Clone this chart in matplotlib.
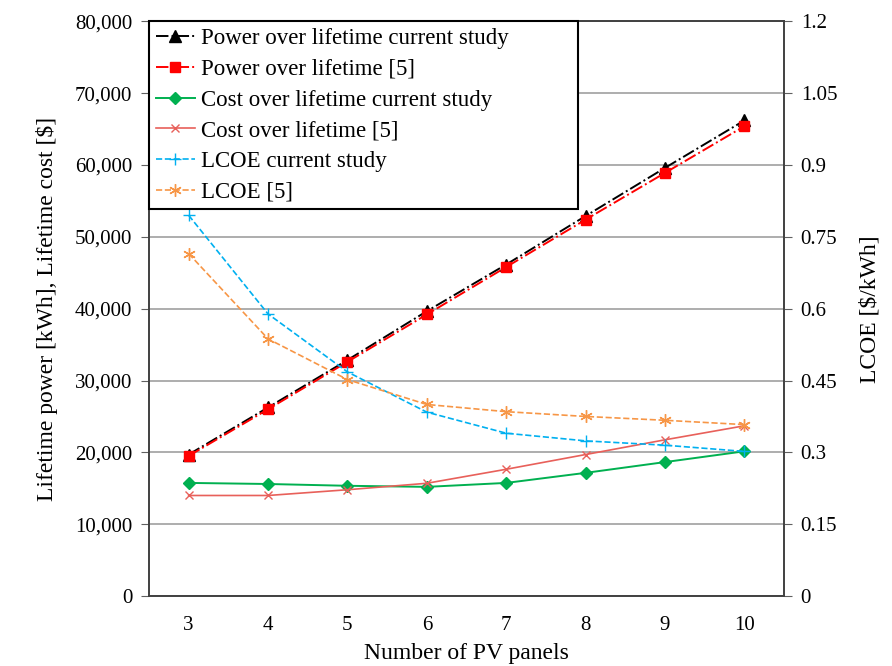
import numpy as np
import matplotlib
matplotlib.use("Agg")
import matplotlib.pyplot as plt
from matplotlib.ticker import FuncFormatter

plt.rcParams['font.family'] = ['Liberation Serif', 'DejaVu Serif']

panels = [3, 4, 5, 6, 7, 8, 9, 10]

# lifetime power [kWh]
power_current = [19700, 26250, 32850, 39650, 46150, 52900, 59600, 66200]
power_ref5 = [19500, 26000, 32600, 39200, 45800, 52400, 58900, 65400]

# lifetime cost [$]
cost_current = [15750, 15600, 15350, 15200, 15750, 17150, 18650, 20150]
cost_ref5 = [14000, 14000, 14800, 15700, 17650, 19700, 21750, 23700]

# LCOE [$/kWh]
lcoe_current = [0.795, 0.589, 0.468, 0.384, 0.340, 0.324, 0.315, 0.302]
lcoe_ref5 = [0.715, 0.537, 0.452, 0.400, 0.385, 0.375, 0.367, 0.358]

fig = plt.figure(figsize=(8.92, 6.66), dpi=100)
ax = fig.add_axes([0.167, 0.105, 0.712, 0.863])
ax2 = ax.twinx()

l1, = ax.plot(panels, power_current, color='black', ls='-.', lw=1.4,
              marker='^', ms=8, label='Power over lifetime current study')
l2, = ax.plot(panels, power_ref5, color='red', ls='-.', lw=1.4,
              marker='s', ms=7, label='Power over lifetime [5]')
l3, = ax.plot(panels, cost_current, color='#00b050', ls='-', lw=1.4,
              marker='D', ms=6, label='Cost over lifetime current study')
l4, = ax.plot(panels, cost_ref5, color='#e8605a', ls='-', lw=1.2,
              marker='x', ms=6, label='Cost over lifetime [5]')
l5, = ax2.plot(panels, lcoe_current, color='#00b0f0', ls='--', lw=1.2,
               marker='+', ms=9, label='LCOE current study')
l6, = ax2.plot(panels, lcoe_ref5, color='#f79646', ls='--', lw=1.2,
               marker=(6, 2, 0), ms=9, label='LCOE [5]')

ax.set_xlim(2.5, 10.5)
ax.set_ylim(0, 80000)
ax2.set_ylim(0, 1.2)
ax.set_xticks(panels)
ax.set_yticks(np.arange(0, 80001, 10000))
ax2.set_yticks([0, 0.15, 0.3, 0.45, 0.6, 0.75, 0.9, 1.05, 1.2])
ax2.set_yticklabels(['0', '0.15', '0.3', '0.45', '0.6', '0.75', '0.9', '1.05', '1.2'])
ax.yaxis.set_major_formatter(FuncFormatter(lambda v, p: f"{int(v):,}"))

ax.grid(axis='y', color='#a0a0a0', lw=1.2)
ax.set_axisbelow(True)
ax.tick_params(axis='x', length=0, labelsize=15, pad=14)
ax.tick_params(axis='y', direction='out', length=6, labelsize=15, pad=6, color='#606060')
ax2.tick_params(axis='y', direction='out', length=6, labelsize=15, pad=6, color='#606060')
for a in (ax, ax2):
    for s in a.spines.values():
        s.set_color('#404040')
        s.set_linewidth(1.2)

ax.set_xlabel('Number of PV panels', fontsize=17, labelpad=6)
ax.set_ylabel('Lifetime power [kWh], Lifetime cost [$]', fontsize=17, labelpad=12)
ax2.set_ylabel('LCOE [$/kWh]', fontsize=17, labelpad=16)

# legend box stretched to the width used in the original figure
leg = ax2.legend(handles=[l1, l2, l3, l4, l5, l6], loc='upper left',
                 bbox_to_anchor=(0, 1, 0.676, 0), mode='expand',
                 borderaxespad=0, fontsize=16.5,
                 fancybox=False, edgecolor='black', framealpha=1,
                 handlelength=1.7, handletextpad=0.25, labelspacing=0.42,
                 borderpad=0.3)
leg.get_frame().set_linewidth(1.5)

fig.savefig('out.png', dpi=100)
